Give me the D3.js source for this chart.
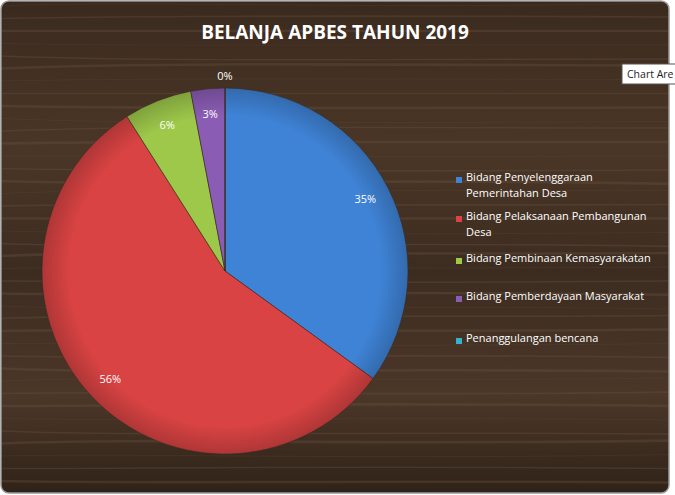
<!DOCTYPE html>
<html>
<head>
<meta charset="utf-8">
<script src="https://d3js.org/d3.v7.min.js"></script>
<style>
  body { margin: 0; background: #fff; }
  text { font-family: "Open Sans", "DejaVu Sans", sans-serif; }
</style>
</head>
<body>
<svg id="chart" width="675" height="495"></svg>
<script>
var categories = ["Bidang Penyelenggaraan Pemerintahan Desa", "Bidang Pelaksanaan Pembangunan Desa",
                  "Bidang Pembinaan Kemasyarakatan", "Bidang Pemberdayaan Masyarakat", "Penanggulangan bencana"];
var legendLines = [["Bidang Penyelenggaraan", "Pemerintahan Desa"], ["Bidang Pelaksanaan Pembangunan", "Desa"],
                   ["Bidang Pembinaan Kemasyarakatan"], ["Bidang Pemberdayaan Masyarakat"], ["Penanggulangan bencana"]];
var values = [35, 56, 6, 3, 0];
var colors = ["#3f83d6", "#d94343", "#9dc84a", "#8a5cb4", "#35b3cc"];

var svg = d3.select("#chart");
var defs = svg.append("defs");

// wood background
var bg = defs.append("linearGradient").attr("id", "wood").attr("x1", 0).attr("y1", 0).attr("x2", 0).attr("y2", 1);
[["0%", "#3a2a1e"], ["30%", "#4a3626"], ["55%", "#3c2c20"], ["80%", "#4b3728"], ["100%", "#2f2218"]]
  .forEach(function(s) { bg.append("stop").attr("offset", s[0]).attr("stop-color", s[1]); });
defs.append("clipPath").attr("id", "clip").append("rect")
  .attr("x", 1).attr("y", 1).attr("width", 668).attr("height", 492).attr("rx", 8);

var g0 = svg.append("g").attr("clip-path", "url(#clip)");
g0.append("rect").attr("width", 675).attr("height", 495).attr("fill", "url(#wood)");
// grain lines
var grain = g0.append("g").attr("fill", "none").attr("stroke", "#6b5442").attr("stroke-opacity", 0.35);
for (var i = 0; i < 40; i++) {
  var y = 6 + i * 12.5;
  var a = (i % 5) * 3 - 6, b = ((i * 7) % 9) - 4;
  grain.append("path")
    .attr("d", "M0," + y + " C150," + (y + a) + " 350," + (y - b) + " 675," + (y + a / 2))
    .attr("stroke-width", (i % 3) + 0.6);
}
svg.append("rect").attr("x", 1).attr("y", 1).attr("width", 668).attr("height", 492).attr("rx", 8)
  .attr("fill", "none").attr("stroke", "#9a9a9a").attr("stroke-width", 1.5);

svg.append("text").attr("x", 335).attr("y", 39).attr("text-anchor", "middle")
  .attr("fill", "#fff").attr("font-size", 19).attr("font-weight", "bold").text("BELANJA APBES TAHUN 2019");

// pie
var cx = 225, cy = 271, r = 183;
var pie = d3.pie().sort(null).value(function(d) { return d; });
var arcs = pie(values);
var arc = d3.arc().innerRadius(0).outerRadius(r);
var g = svg.append("g").attr("transform", "translate(" + cx + "," + cy + ")");

colors.forEach(function(c, i) {
  var rg = defs.append("radialGradient").attr("id", "g" + i).attr("gradientUnits", "userSpaceOnUse")
    .attr("cx", 0).attr("cy", 0).attr("r", r);
  rg.append("stop").attr("offset", "85%").attr("stop-color", c);
  rg.append("stop").attr("offset", "100%").attr("stop-color", d3.color(c).darker(0.6));
});

g.selectAll("path.s").data(arcs).enter().append("path").attr("class", "s")
  .attr("d", arc).attr("fill", function(d, i) { return "url(#g" + i + ")"; })
  .attr("stroke", "#3a2a1e").attr("stroke-width", 0.6);

var lab = d3.arc().innerRadius(r * 0.86).outerRadius(r * 0.86);
var labOut = d3.arc().innerRadius(r + 12).outerRadius(r + 12);
g.selectAll("text.l").data(arcs).enter().append("text").attr("class", "l")
  .attr("transform", function(d) {
    var p = d.value === 0 ? labOut.centroid(d) : lab.centroid(d);
    if (d.value === 0) p[0] = 0;
    return "translate(" + p + ")";
  })
  .attr("text-anchor", "middle").attr("dy", "0.35em").attr("fill", "#fff").attr("font-size", 11)
  .text(function(d) { return d.value + "%"; });

// legend
var legY = [181, 220, 262, 300, 342];
var leg = svg.append("g").selectAll("g").data(categories).enter().append("g")
  .attr("transform", function(d, i) { return "translate(456," + legY[i] + ")"; });
leg.append("rect").attr("x", 0).attr("y", -4).attr("width", 6).attr("height", 6)
  .attr("fill", function(d, i) { return colors[i]; });
leg.append("text").attr("fill", "#fff").attr("font-size", 11).attr("x", 10).attr("y", 0).attr("dy", "0.35em")
  .selectAll("tspan").data(function(d, i) { return legendLines[i]; }).enter().append("tspan")
  .attr("x", 10).attr("dy", function(d, j) { return j ? 16 : 0; }).text(function(d) { return d; });

// tooltip (cut by the window edge in the reference)
svg.append("rect").attr("x", 622).attr("y", 64).attr("width", 60).attr("height", 20)
  .attr("fill", "#fff").attr("stroke", "#555");
svg.append("text").attr("x", 627).attr("y", 78).attr("font-size", 10.5).attr("fill", "#222").text("Chart Are");
</script>
</body>
</html>
